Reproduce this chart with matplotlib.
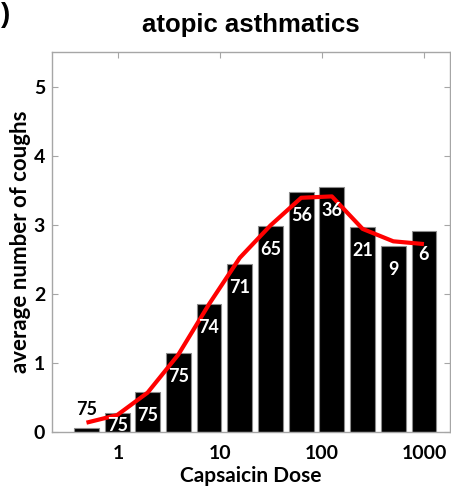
import numpy as np
import matplotlib
matplotlib.use("Agg")
import matplotlib.pyplot as plt

# Capsaicin challenge: mean coughs per dose step, atopic asthmatics
doses = [0.49, 0.98, 1.95, 3.9, 7.8, 15.6, 31.25, 62.5, 125, 250, 500, 1000]
mean_coughs = [0.06, 0.27, 0.58, 1.14, 1.85, 2.43, 2.98, 3.48, 3.54, 2.96, 2.69, 2.91]
fitted_curve = [0.135, 0.245, 0.57, 1.12, 1.85, 2.52, 2.99, 3.39, 3.41, 2.94, 2.76, 2.72]
n_subjects = [75, 75, 75, 75, 74, 71, 65, 56, 36, 21, 9, 6]
xtick_values = [1, 10, 100, 1000]
xtick_labels = ["1", "10", "100", "1000"]
ytick_values = [0, 1, 2, 3, 4, 5]

LABEL_FONT = ["Lato", "DejaVu Sans"]
GRAY = "#a6a6a6"

fig = plt.figure(figsize=(4.51, 4.90), dpi=100)
ax = fig.add_axes([52 / 451, 58 / 490, 398 / 451, 380 / 490])

d = np.asarray(doses)
half = 0.405  # half bar width in log2 units
left = d * 2.0 ** (-half)
width = d * (2.0 ** half - 2.0 ** (-half))
ax.bar(left, mean_coughs, width=width, align="edge", color="black",
       edgecolor="#8c8c8c", linewidth=0.8, zorder=2)

ax.plot(d, fitted_curve, color="#ff0000", linewidth=3.0, zorder=3,
        solid_capstyle="butt")

for i, (x, h, n) in enumerate(zip(d, mean_coughs, n_subjects)):
    if i == 0:
        ax.text(x, h + 0.27, str(n), color="black", ha="center", va="center",
                fontsize=13, fontweight="bold", family=LABEL_FONT, zorder=4)
    else:
        y = max(h - 0.34, 0.1)
        ax.text(x, y, str(n), color="white", ha="center", va="center",
                fontsize=13, fontweight="bold", family=LABEL_FONT, zorder=4)

ax.set_xscale("log")
ax.set_xlim(0.225, 1800)
ax.set_ylim(0, 5.5)
ax.set_xticks(xtick_values)
ax.set_xticklabels(xtick_labels)
ax.xaxis.set_minor_locator(matplotlib.ticker.NullLocator())
ax.set_yticks(ytick_values)

for lab in ax.get_xticklabels() + ax.get_yticklabels():
    lab.set_family(LABEL_FONT)
    lab.set_fontweight("bold")
    lab.set_fontsize(14)

ax.tick_params(axis="both", direction="in", length=4, width=0.8, color=GRAY,
               top=True, right=True)
ax.tick_params(axis="x", pad=9)
ax.tick_params(axis="y", pad=5)
for s in ax.spines.values():
    s.set_color(GRAY)
    s.set_linewidth(1.0)

ax.set_xlabel("Capsaicin Dose", fontsize=15, fontweight="bold",
              family=LABEL_FONT, labelpad=3)
ax.set_ylabel("average number of coughs", fontsize=16, fontweight="bold",
              family=LABEL_FONT, labelpad=2)

fig.text(251 / 451, 1 - 25 / 490, "atopic asthmatics", ha="center", va="center",
         fontsize=18.5, fontweight="bold", family=["Liberation Sans", "DejaVu Sans"])
fig.text(0.002, 1 - 15 / 490, ")", ha="left", va="center", fontsize=20,
         fontweight="bold", family=["Liberation Sans", "DejaVu Sans"])

fig.savefig("out.png", dpi=100)
